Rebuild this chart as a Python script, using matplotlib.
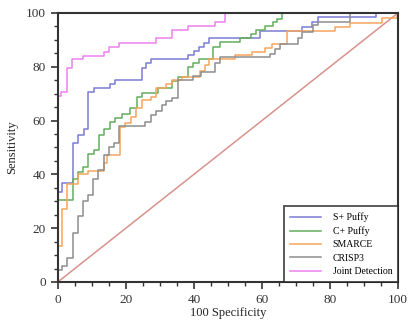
import matplotlib
matplotlib.use("Agg")
import matplotlib.pyplot as plt
from matplotlib.ticker import MultipleLocator

plt.rcParams["font.family"] = ["Liberation Serif", "DejaVu Serif"]

# ROC steps: 100-specificity (x) and sensitivity (y)
s_puffy_x = [0, 0, 1.3, 4.5, 5.8, 7.7, 8.9, 10.6, 15.3, 16.8, 24.6, 26, 27.4, 38.3, 40, 41.5,
             42.9, 44.5, 59.4, 71.7, 74.7, 76.6, 93.6, 100]
s_puffy_y = [0, 33.5, 36.7, 51.6, 54.8, 56.7, 70.5, 72, 73.5, 75, 79.7, 81.3, 82.8, 84.4, 86, 87.5,
             89, 90.7, 93.3, 94.9, 96.6, 98.5, 100, 100]

c_puffy_x = [0, 0, 4.5, 6, 7.4, 8.8, 10.6, 12, 13.5, 15.2, 16.7, 19.0, 21.3, 23.3, 24.6, 29.4,
             33.5, 35.4, 38.3, 39.8, 41.5, 45.7, 47.6, 53.5, 56.7, 58.2, 60.9, 63.2, 64.5, 66, 100]
c_puffy_y = [0, 30.5, 38.2, 41, 42.9, 47.6, 49.2, 54.6, 57, 59.6, 61, 62.4, 64.5, 68.9, 70.4, 72,
             74.8, 76.3, 79.9, 81.5, 82.8, 87.2, 89.2, 90.7, 92, 93.6, 95.2, 96.5, 97.6, 100, 100]

smarce_x = [0, 0, 1.3, 2.8, 6, 8.8, 13.5, 14.6, 18.2, 19.8, 21.5, 23.1, 24.6, 27.5, 29, 31.9,
            33.6, 36.4, 41.8, 43.2, 44.5, 52, 57, 60.9, 62.9, 67.3, 81.5, 85.9, 95.2, 99.6, 100]
smarce_y = [0, 13.3, 27, 36.6, 40.2, 41.3, 44.1, 47.3, 57.7, 59.2, 61.4, 64.5, 67.7, 68.9, 72, 73.5,
            75.1, 76.3, 78.5, 80.5, 82.9, 84.3, 85.5, 87, 88.5, 93.3, 94.9, 96.4, 98, 100, 100]

crisp3_x = [0, 0, 1.3, 2.8, 4.5, 6, 7.4, 8.8, 10.3, 11.7, 13.5, 15, 16.6, 18.1, 25.6, 27.5, 29,
            30.5, 31.9, 33.6, 35.4, 39.8, 42.2, 46.2, 47.6, 62.4, 63.8, 65.3, 70.5, 71.7, 75.1,
            76.6, 85.9, 100]
crisp3_y = [0, 4.3, 5.9, 8.8, 18.1, 24.5, 30.2, 32.5, 38.2, 41.6, 47.2, 50.3, 51.8, 58, 59.5, 62.1,
            63.4, 65.8, 67.1, 68.5, 75.1, 76.5, 77.9, 81.5, 83.5, 84.8, 86.5, 88.6, 90.6, 93, 95.5,
            96.8, 100, 100]

joint_x = [0, 0, 1, 2.8, 4.3, 7.4, 13.5, 15.1, 18, 29, 33.6, 38.3, 46.2, 49.1, 100]
joint_y = [0, 69, 70.5, 79.5, 83, 84, 85.5, 87.3, 89, 90.5, 93.8, 95, 96.5, 100, 100]

fig = plt.figure(figsize=(4.19, 3.23), dpi=100)
ax = fig.add_axes([0.138, 0.127, 0.812, 0.833])

ax.plot([0, 100], [0, 100], color="#d8928c", lw=1.1)
ax.step(s_puffy_x, s_puffy_y, where="post", color="#7b7bd4", lw=1.1, label="S+ Puffy")
ax.step(c_puffy_x, c_puffy_y, where="post", color="#62ad5e", lw=1.1, label="C+ Puffy")
ax.step(smarce_x, smarce_y, where="post", color="#f6a55c", lw=1.1, label="SMARCE")
ax.step(crisp3_x, crisp3_y, where="post", color="#8d8d8d", lw=1.1, label="CRISP3")
ax.step(joint_x, joint_y, where="post", color="#ee80ee", lw=1.1, label="Joint Detection")

ax.set_xlim(0, 100)
ax.set_ylim(0, 100)
ax.xaxis.set_major_locator(MultipleLocator(20))
ax.xaxis.set_minor_locator(MultipleLocator(5))
ax.yaxis.set_major_locator(MultipleLocator(20))
ax.yaxis.set_minor_locator(MultipleLocator(5))
ax.tick_params(which="major", direction="out", length=5, width=1.2, labelsize=9.5, colors="#333333")
ax.tick_params(which="minor", direction="out", length=3, width=1.0, colors="#333333")
for sp in ax.spines.values():
    sp.set_linewidth(1.5)
    sp.set_color("#333333")

ax.set_xlabel("100 Specificity", fontsize=9, color="#222222", labelpad=1)
ax.set_ylabel("Sensitivity", fontsize=9, color="#222222", labelpad=6)

leg = ax.legend(loc="lower right", fontsize=7, frameon=True, fancybox=False,
                borderaxespad=0, edgecolor="#222222", handlelength=3.2,
                labelspacing=0.45, borderpad=0.6, handletextpad=1.2)
leg.get_frame().set_linewidth(1.3)

fig.savefig("out.png", dpi=100)
